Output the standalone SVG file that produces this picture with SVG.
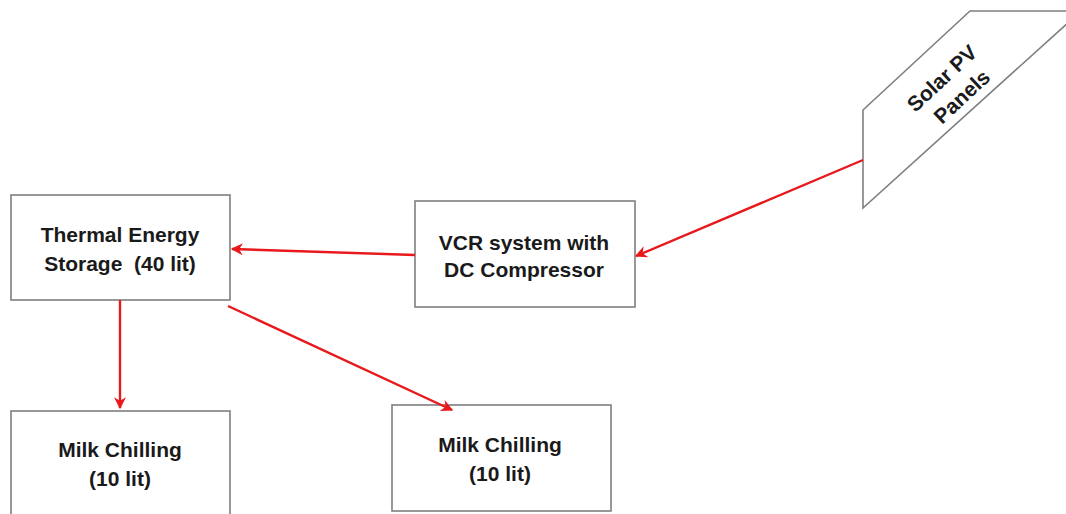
<svg xmlns="http://www.w3.org/2000/svg" width="1066" height="514" viewBox="0 0 1066 514">
<style>
.box{fill:#fff;stroke:#7f7f7f;stroke-width:1.6}
.lbl{font-family:"Liberation Sans",Arial,sans-serif;font-weight:bold;font-size:21px;fill:#1a1a1a;text-anchor:middle}
.con{stroke:#e8191c;stroke-width:2.4;fill:none;marker-end:url(#ah)}
</style>
<defs>
<marker id="ah" viewBox="0 0 10 10" refX="9" refY="5" markerWidth="5" markerHeight="5" orient="auto" markerUnits="strokeWidth">
<path d="M0,0 L10,5 L0,10 L3,5 Z" fill="#e8191c"/>
</marker>
</defs>
<rect width="1066" height="514" fill="#fff"/>
<g id="solar">
<polygon class="box" points="863,110 970,11 1081,11 863,208"/>
<g transform="translate(951,88) rotate(-43)">
<text class="lbl" x="0" y="-6">Solar PV</text>
<text class="lbl" x="2" y="21">Panels</text>
</g>
</g>
<g id="vcr">
<rect class="box" x="415" y="201" width="220" height="106"/>
<text class="lbl" x="524" y="250">VCR system with</text>
<text class="lbl" x="524" y="277">DC Compressor</text>
</g>
<g id="tes">
<rect class="box" x="11" y="195" width="219" height="105"/>
<text class="lbl" x="120" y="242">Thermal Energy</text>
<text class="lbl" x="120" y="271" xml:space="preserve">Storage  (40 lit)</text>
</g>
<g id="milk1">
<rect class="box" x="11" y="411" width="219" height="110"/>
<text class="lbl" x="120" y="457">Milk Chilling</text>
<text class="lbl" x="120" y="486">(10 lit)</text>
</g>
<g id="milk2">
<rect class="box" x="392" y="405" width="219" height="106"/>
<text class="lbl" x="500" y="452">Milk Chilling</text>
<text class="lbl" x="500" y="481">(10 lit)</text>
</g>
<g id="connectors">
<line class="con" x1="863" y1="160" x2="636" y2="256"/>
<line class="con" x1="415" y1="255" x2="232" y2="249"/>
<line class="con" x1="120" y1="300" x2="120" y2="408"/>
<line class="con" x1="228" y1="306" x2="452" y2="410"/>
</g>
</svg>
